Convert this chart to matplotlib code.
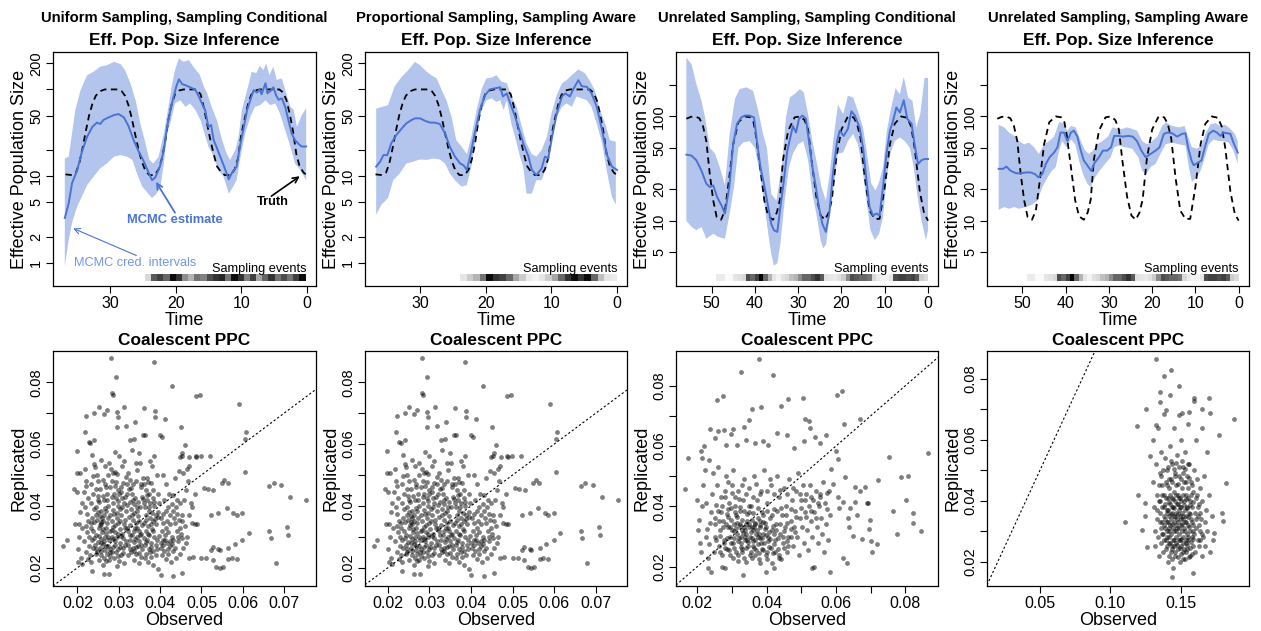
import numpy as np
import matplotlib
matplotlib.use("Agg")
from matplotlib import pyplot as plt
from matplotlib.patches import Rectangle
from matplotlib.ticker import NullLocator

plt.rcParams['font.family'] = ['Liberation Sans', 'DejaVu Sans']

#---------------------------Data: effective population size---------------------------#

# truth, periodic population size (panels 1-2 and panels 3-4)
truth_a_t = [36.8, 35.8, 35.2, 34.7, 34.2, 33.7, 33.2, 32.7, 32.2, 31.6, 30.8, 28.8, 28.2, 27.7, 27.2, 26.7,
             26.2, 25.7, 25.2, 24.6, 24.0, 23.2, 22.6, 22.1, 21.6, 21.1, 20.6, 20.1, 19.5, 18.8, 16.8, 16.2,
             15.7, 15.2, 14.7, 14.2, 13.7, 13.1, 12.5, 11.6, 11.0, 10.5, 10.0, 9.5, 9.0, 8.5, 7.9, 7.2, 4.2,
             3.6, 3.1, 2.6, 2.1, 1.6, 1.1, 0.5, 0.0]
truth_a_n = [10.5, 10.3, 11, 14, 21, 33, 50, 68, 84, 95, 100, 100, 95, 84, 66, 47,
             31, 21, 15, 11.5, 10.3, 10.3, 12, 16, 25, 45, 68, 88, 97, 100, 100, 88,
             62, 40, 26, 18, 13, 11.2, 10.3, 10.3, 12, 16, 30, 45, 66, 86, 97, 100, 100,
             92, 75, 52, 33, 18, 13, 11, 10.3]

truth_b_t = [55.8, 54.8, 53.8, 52.8, 52.0, 51.2, 50.4, 49.6, 48.8, 47.8, 46.9, 46.0, 45.0, 43.8, 42.3, 41.0,
             40.3, 39.8, 38.8, 37.8, 36.9, 35.8, 34.9, 34.2, 33.5, 32.3, 30.8, 29.5, 28.5, 27.7, 26.9, 25.8,
             24.8, 23.8, 22.9, 22.2, 21.2, 20.0, 18.5, 17.2, 16.4, 15.6, 14.6, 13.5, 12.3, 11.2, 10.0, 8.8,
             7.7, 6.2, 4.8, 3.9, 3.1, 1.9, 0.9, 0.0]
truth_b_n = [95, 99, 100, 96, 82, 58, 28, 15.6, 10.8, 10.2, 12.5, 24, 54, 88, 100, 98,
             88, 68, 33, 15.6, 11, 10.2, 12, 16, 38, 73, 98, 100, 92, 75, 38, 17,
             11.2, 10.2, 12, 16, 40, 75, 100, 98, 85, 62, 26, 12.5, 10.4, 10.4, 21, 54,
             85, 100, 97, 80, 50, 19, 11.7, 10]

# Uniform sampling, sampling conditional
mean1_t = [36.9, 36.3, 35.8, 35.0, 34.3, 33.5, 32.7, 32.0, 31.5, 31.0, 30.2, 29.4, 28.7, 27.9, 27.2, 26.4,
           25.6, 25.0, 24.4, 23.6, 23.1, 22.4, 21.8, 21.3, 20.8, 20.3, 19.9, 19.5, 19.0, 18.5, 17.8, 17.0,
           16.5, 16.0, 15.5, 15.0, 14.6, 14.2, 13.8, 13.2, 12.6, 11.9, 11.4, 10.7, 10.2, 9.6, 9.1, 8.6,
           8.1, 7.6, 7.2, 6.9, 6.3, 6.0, 5.5, 5.1, 4.7, 4.3, 3.8, 3.3, 2.8, 2.3, 1.8, 1.1, 0.8, 0.1]
mean1_n = [3.3, 4.9, 8.3, 11.8, 19, 28.5, 37, 41.5, 40, 44.5, 47.7, 50.7, 52, 47.7, 38, 26,
           19, 15.6, 12.3, 9, 9.7, 12.9, 20, 37, 58, 83, 108, 131, 115, 112, 106, 99,
           84, 69, 58, 37, 39, 26, 22, 16.8, 12.9, 9.2, 11, 12.9, 22, 37, 58, 76,
           98, 92, 100, 88, 118, 90, 97, 106, 86, 76, 79, 63, 44, 31, 26, 23, 22, 22]
upper1_t = [36.9, 36.3, 35.8, 35.3, 34.5, 33.5, 32.5, 31.5, 30.5, 29.4, 28.4, 27.7, 26.9, 26.1, 25.4, 24.6,
            24.0, 23.4, 22.6, 21.8, 21.1, 20.6, 20.1, 19.5, 18.8, 18.0, 17.3, 16.3, 15.7, 15.2, 14.5, 13.7,
            12.9, 12.2, 11.7, 10.9, 10.4, 9.9, 9.1, 8.4, 7.7, 7.2, 6.6, 6.2, 5.7, 5.1, 4.6, 3.8, 3.0, 2.5,
            2.0, 1.5, 0.8, 0.1]
upper1_n = [16, 16.8, 31, 58, 98, 146, 160, 183, 190, 208, 196, 167, 118, 75, 41, 24,
            15.4, 14, 16.8, 31, 63, 108, 167, 228, 208, 218, 183, 146, 108, 90, 63, 44,
            26, 18, 15.4, 20, 28.5, 58, 98, 160, 154, 187, 167, 200, 146, 183, 129, 134, 83, 63,
            58, 37, 50, 61]
lower1_t = [36.9, 36.3, 35.8, 35.0, 34.3, 33.5, 32.5, 31.5, 30.5, 29.4, 28.4, 27.4, 26.6, 25.9, 25.1, 24.4,
            23.6, 22.9, 22.3, 21.8, 21.3, 20.7, 20.1, 19.3, 18.5, 17.8, 17.0, 16.2, 15.6, 15.0, 14.2, 13.5,
            12.7, 11.9, 11.4, 10.7, 10.2, 9.4, 8.6, 7.9, 7.1, 6.3, 5.6, 4.8, 4.1, 3.3, 2.5, 1.8, 1.0, 0.1]
lower1_n = [0.91, 1.84, 2.9, 4.5, 5.8, 7.9, 9.9, 12.3, 14, 16.8, 17.5, 16.8, 15.4, 10.8, 7.6, 6.6,
            5.6, 6.3, 7.6, 14, 31, 44, 69, 75, 63, 69, 58, 44, 31, 22, 16.8, 11.8,
            9.9, 6.3, 7.2, 9, 15.4, 31, 48.5, 63, 66, 75, 66, 69, 53, 34, 22, 14, 11.8, 9]

# Proportional sampling, sampling aware
mean2_t = [36.7, 36.1, 35.6, 35.0, 34.4, 33.6, 32.8, 32.1, 31.3, 30.8, 30.0, 29.3, 28.5, 27.8, 27.0, 26.2,
           25.5, 24.7, 23.9, 23.4, 22.9, 22.4, 21.7, 20.9, 20.1, 19.4, 18.6, 17.8, 17.4, 16.8, 16.1, 15.6,
           14.9, 14.3, 13.5, 13.0, 12.3, 11.5, 11.0, 10.5, 9.9, 9.2, 8.4, 7.9, 7.2, 6.7, 5.9, 5.4, 4.6,
           3.9, 3.1, 2.3, 1.6, 0.8, 0.0]
mean2_n = [12.9, 14.7, 17.5, 17.5, 24, 30, 35.5, 40.7, 44.5, 46.4, 46.4, 43.6, 41.5, 41.5, 40, 31,
           22, 16.8, 14, 13.4, 11.8, 16.8, 31, 58, 86, 100, 103, 106, 83, 90, 63, 50,
           34, 24, 16.8, 11.8, 10.3, 12.3, 16.8, 16, 28.5, 53, 83, 90, 83, 100, 128, 109, 107,
           90, 63, 34, 18, 12.9, 11.8]
upper2_t = [36.7, 34.9, 33.9, 32.8, 31.8, 30.8, 30.0, 29.0, 28.3, 27.5, 26.7, 26.0, 25.2, 24.5, 23.7, 22.9,
            22.2, 21.4, 20.6, 19.9, 19.1, 18.4, 17.6, 16.8, 16.1, 15.3, 14.5, 13.8, 13.0, 12.3, 11.5, 10.7,
            10.0, 9.2, 8.4, 7.7, 6.9, 5.9, 4.9, 4.1, 3.4, 2.6, 1.8, 1.1, 0.2]
upper2_n = [60, 66, 108, 140, 167, 208, 190, 160, 146, 134, 98, 75, 48, 26, 22, 18,
            28.5, 58, 103, 134, 137, 146, 123, 118, 83, 63, 37, 24, 18, 16.8, 20, 28.5,
            53, 86, 118, 128, 146, 170, 154, 123, 98, 58, 40, 26, 25]
lower2_t = [36.7, 35.9, 34.9, 34.1, 33.1, 32.1, 31.1, 30.0, 29.0, 28.0, 27.0, 26.2, 25.5, 24.7, 23.7, 22.9,
            22.2, 21.4, 20.6, 19.9, 19.1, 18.4, 17.8, 17.3, 16.8, 16.1, 15.3, 14.8, 14.3, 13.8, 13.0, 12.3,
            11.5, 10.7, 10.0, 9.2, 8.4, 7.7, 6.9, 6.2, 5.4, 4.6, 3.9, 3.1, 2.3, 1.6, 0.8, 0.2]
lower2_n = [3.6, 4.7, 5.6, 9, 10.8, 14, 14.7, 15.6, 15.4, 16, 15.6, 14, 10.8, 9, 7.6, 7.9,
            12.9, 31, 58, 75, 79, 72, 75, 58, 75, 40, 24, 16.8, 12.9, 6.3, 6.3, 9,
            9, 12.9, 26, 48, 63, 69, 63, 83, 79, 75, 63, 40, 24, 11.8, 5.8, 4.7]

# Unrelated sampling, sampling conditional
mean3_t = [55.8, 54.6, 53.5, 52.3, 51.2, 50.4, 49.6, 48.7, 47.7, 46.9, 45.9, 45.0, 44.1, 43.1, 42.3, 41.2,
           40.2, 39.5, 38.7, 37.9, 36.9, 36.2, 35.6, 34.8, 34.1, 33.3, 32.5, 31.8, 31.2, 30.5, 29.8, 29.0,
           28.2, 27.5, 26.7, 25.9, 25.2, 24.4, 23.6, 22.8, 21.9, 21.0, 20.4, 19.5, 18.5, 17.7, 16.9, 15.8,
           15.0, 14.2, 13.5, 12.7, 11.9, 11.2, 10.4, 9.6, 8.8, 8.1, 7.3, 6.5, 5.6, 4.8, 3.8, 3.1, 2.3,
           1.5, 0.8, 0.0]
mean3_n = [43, 42, 38, 30, 22.6, 21, 21.8, 16.8, 14, 11.7, 21, 54, 85, 98, 102, 102,
           98, 58, 32.6, 22.6, 13.5, 9.3, 8.1, 7.8, 13.5, 24, 47, 63, 81, 70, 95, 102,
           95, 58, 32.6, 21, 13.5, 9.3, 7.8, 11.7, 30, 58, 73, 65, 76, 112, 102, 78,
           50, 24, 13.5, 11.2, 11.7, 11.2, 21, 43.6, 73, 90, 122, 109, 143, 95, 85, 54, 35,
           38, 39, 39]
upper3_t = [55.8, 54.6, 53.5, 52.3, 51.5, 50.4, 49.2, 48.1, 46.9, 45.8, 44.6, 43.5, 41.9, 40.4, 39.2, 38.1,
            37.2, 36.2, 35.0, 33.8, 32.8, 31.9, 30.8, 29.6, 28.7, 27.7, 26.7, 25.8, 24.6, 23.6, 22.7, 21.8,
            20.8, 19.6, 18.5, 17.3, 16.2, 15.0, 14.1, 13.1, 12.1, 11.3, 10.4, 9.5, 8.5, 7.5, 6.5, 5.6,
            4.6, 3.6, 2.7, 1.8, 0.8, 0.0]
upper3_n = [366, 316, 204, 141, 98, 50, 44, 32.6, 21.8, 68, 147, 183, 190, 176, 113, 68,
            50, 18, 15.6, 32.6, 98, 152, 164, 183, 170, 105, 58, 38, 21, 15.6, 28, 63,
            130, 105, 158, 152, 113, 78, 44, 22.6, 19.5, 23.5, 32.6, 73, 122, 186, 164, 240,
            152, 141, 78, 105, 234, 234]
lower3_t = [55.8, 54.6, 53.5, 52.3, 51.2, 49.6, 48.5, 46.9, 45.8, 44.8, 43.8, 42.7, 41.2, 40.0, 38.8, 37.7,
            36.9, 36.2, 35.6, 34.8, 34.1, 33.1, 32.1, 31.2, 30.0, 28.8, 27.7, 26.7, 25.8, 24.8, 24.2, 23.5,
            22.7, 21.8, 20.8, 19.6, 18.5, 17.3, 16.2, 15.2, 14.2, 13.3, 12.3, 11.3, 10.4, 9.6, 8.7, 7.7,
            6.5, 5.4, 4.2, 3.3, 2.5, 1.5, 0.5, 0.0]
lower3_n = [10, 8.7, 8.1, 8.7, 6.7, 7.5, 7, 6.7, 11.7, 21, 50, 56, 58, 50, 28, 13.5,
            7.5, 4.8, 3.7, 3.9, 6, 15.6, 32.6, 44, 54, 58, 38, 18, 11.7, 6.5, 5.4, 6,
            11.7, 21, 44, 45, 58, 68, 54, 32.6, 15.6, 8.1, 6.5, 7.5, 10.8, 24, 44, 58,
            63, 58, 50, 32.6, 18, 10, 6.5, 8.1]

# Unrelated sampling, sampling aware
mean4_t = [55.5, 54.5, 53.7, 52.7, 51.5, 50.4, 49.2, 48.1, 47.1, 46.3, 45.4, 44.6, 43.7, 42.7, 41.9, 41.2,
           40.4, 39.6, 38.8, 38.1, 37.3, 36.5, 35.8, 35.0, 34.1, 33.3, 32.3, 31.4, 30.4, 29.5, 28.8, 27.7,
           26.8, 25.5, 24.5, 23.5, 22.5, 21.5, 20.4, 19.2, 18.3, 17.3, 16.5, 15.4, 14.2, 13.1, 12.3, 11.7,
           10.9, 10.4, 9.4, 8.6, 7.8, 6.9, 5.9, 5.0, 4.2, 3.5, 2.7, 1.9, 1.2, 0.2]
mean4_n = [31.4, 31.4, 33, 30, 28.5, 28.5, 29, 29, 28, 26, 28, 35, 40.6, 45, 50.6, 70,
           70, 58, 70, 73, 64, 47, 37.7, 34, 30, 36, 40.6, 47, 47, 50.6, 65, 65,
           64, 65, 64, 58, 47, 40.6, 43.6, 47, 50.6, 68, 70, 69, 64, 68, 69, 50.6,
           37.7, 34, 36, 37.7, 50.6, 68, 73, 70, 65, 70, 69, 68, 56, 45]
upper4_t = [55.5, 54.2, 53.1, 51.9, 50.8, 49.6, 48.5, 47.3, 46.2, 45.0, 43.8, 42.7, 41.5, 40.6, 39.6, 38.8,
            37.7, 36.5, 35.5, 34.6, 33.7, 32.7, 31.5, 30.2, 29.2, 28.1, 26.9, 25.8, 24.6, 23.5, 22.3, 21.2,
            20.0, 18.8, 17.7, 16.8, 15.4, 13.8, 12.5, 11.7, 10.8, 9.6, 8.6, 7.7, 6.5, 5.4, 4.2, 3.1, 1.9,
            0.9, 0.2]
upper4_n = [83, 78.5, 70, 65, 58, 54, 56, 50.6, 43.6, 54, 58, 64, 88, 86, 73, 81,
            78.5, 58, 47, 43.6, 47, 54, 58, 64, 78.5, 76, 76, 78.5, 76, 73, 58, 54,
            58, 64, 81, 88, 81, 78.5, 81, 64, 50.6, 49, 52.5, 68, 84, 86, 81, 83, 76,
            68, 58]
lower4_t = [55.5, 54.2, 53.1, 51.9, 50.8, 49.2, 47.7, 46.5, 45.4, 44.2, 43.2, 42.3, 41.5, 40.8, 39.8, 38.8,
            37.8, 36.9, 36.0, 35.0, 34.2, 33.2, 32.2, 30.9, 29.6, 28.8, 27.7, 26.2, 24.6, 23.2, 22.3, 21.3,
            20.4, 19.2, 18.1, 16.9, 15.4, 13.8, 12.3, 11.5, 10.8, 9.8, 8.8, 7.8, 6.9, 5.8, 4.6, 3.5, 2.3,
            1.2, 0.2]
lower4_n = [12.7, 13.5, 13, 13.5, 13, 13.5, 14.3, 15.6, 21, 26, 30, 32.6, 47, 58, 50.6, 60,
            54, 37.7, 28, 22.6, 21, 26, 30, 35, 40.6, 50.6, 52.5, 50.6, 49, 40.6, 30, 28,
            32.6, 35, 43.6, 54, 56, 54, 52.5, 32.6, 23.5, 26, 30, 40.6, 54, 60, 58, 58, 56,
            47, 35]

# sampling event intensity strips (oldest cell first), and the time span they cover
samp1 = [0.15, 0.65, 0.75, 0.6, 0.95, 0.8, 0.45, 0.3, 0.55, 0.5, 0.7, 0.8, 0.85, 0.55, 0.95, 0.8,
         0.5, 0.75, 0.35, 0.6, 0.8, 0.55, 0.7, 0.55, 0.75, 0.95]
samp1_span = (24.7, 0.2)
samp2 = [0.1, 0.2, 0.3, 0.55, 0.95, 0.8, 0.75, 0.6, 0.35, 0.2, 0.08, 0.05, 0.1, 0.2, 0.35, 0.6,
         0.8, 0.95, 0.8, 0.95, 0.6, 0.25, 0.1, 0.08]
samp2_span = (23.9, 0.0)
samp_unrel = [0.08, 0.08, 0.02, 0.02, 0.1, 0.12, 0.15, 0.7, 0.6, 0.75, 1.0, 0.6, 0.3, 0.1, 0.05, 0.12,
              0.15, 0.25, 0.3, 0.45, 0.6, 0.6, 0.7, 0.8, 0.65, 0.12, 0.1, 0.08, 0.12, 0.2, 0.45, 0.7,
              0.65, 0.6, 0.6, 0.55, 0.15, 0.08, 0.05, 0.05, 0.1, 0.7, 0.75, 0.75, 0.7, 0.75, 0.65, 0.2, 0.15]
samp_unrel_span = (49.0, 0.0)

#---------------------------Data: coalescent PPC (observed, replicated)---------------------------#

ppc_uniform = [
    (0.0281, 0.0878), (0.0385, 0.0864), (0.0293, 0.0818), (0.0429, 0.0788), (0.0283, 0.0764), (0.0285, 0.0759),
    (0.0487, 0.0757), (0.0496, 0.0760), (0.0590, 0.0731), (0.0252, 0.0719), (0.0313, 0.0719), (0.0361, 0.0716),
    (0.0240, 0.0699), (0.0271, 0.0710), (0.0295, 0.0704), (0.0264, 0.0697), (0.0221, 0.0691), (0.0388, 0.0708),
    (0.0388, 0.0688), (0.0413, 0.0682), (0.0297, 0.0686), (0.0339, 0.0673), (0.0318, 0.0659), (0.0295, 0.0654),
    (0.0450, 0.0654), (0.0607, 0.0638), (0.0605, 0.0617), (0.0219, 0.0638), (0.0400, 0.0629), (0.0405, 0.0624),
    (0.0227, 0.0608), (0.0231, 0.0603), (0.0241, 0.0614), (0.0358, 0.0630), (0.0364, 0.0630), (0.0327, 0.0613),
    (0.0338, 0.0615), (0.0198, 0.0576), (0.0460, 0.0597), (0.0454, 0.0572), (0.0452, 0.0561), (0.0448, 0.0559),
    (0.0499, 0.0561), (0.0521, 0.0561), (0.0487, 0.0561), (0.0471, 0.0559), (0.0488, 0.0559), (0.0605, 0.0510),
    (0.0549, 0.0473), (0.0563, 0.0473), (0.0555, 0.0484), (0.0664, 0.0465), (0.0675, 0.0475), (0.0693, 0.0468),
    (0.0714, 0.0430), (0.0754, 0.0419), (0.0505, 0.0457), (0.0516, 0.0454), (0.0529, 0.0450), (0.0599, 0.0378),
    (0.0577, 0.0376), (0.0561, 0.0392), (0.0541, 0.0376), (0.0523, 0.0371), (0.0585, 0.0370), (0.0664, 0.0320),
    (0.0667, 0.0295), (0.0707, 0.0333), (0.0710, 0.0306), (0.0615, 0.0313), (0.0599, 0.0289), (0.0581, 0.0278),
    (0.0565, 0.0264), (0.0545, 0.0257), (0.0523, 0.0258), (0.0527, 0.0266), (0.0541, 0.0261), (0.0500, 0.0233),
    (0.0512, 0.0230), (0.0528, 0.0224), (0.0573, 0.0233), (0.0585, 0.0229), (0.0565, 0.0228), (0.0680, 0.0214),
    (0.0536, 0.0203), (0.0545, 0.0198), (0.0551, 0.0203), (0.0432, 0.0174), (0.0454, 0.0182), (0.0401, 0.0178),
    (0.0264, 0.0180), (0.0277, 0.0179), (0.0166, 0.0271), (0.0174, 0.0290),
    (0.0192, 0.0456), (0.0198, 0.0508), (0.0200, 0.0445), (0.0203, 0.0342), (0.0195, 0.0343), (0.0205, 0.0300),
    (0.0201, 0.0262), (0.0208, 0.0232), (0.0210, 0.0212), (0.0202, 0.0218), (0.0207, 0.0380), (0.0212, 0.0330),
    (0.0210, 0.0410), (0.0206, 0.0505), (0.0215, 0.0446), (0.0218, 0.0520), (0.0220, 0.0482), (0.0222, 0.0463),
    (0.0225, 0.0425), (0.0219, 0.0398), (0.0223, 0.0375), (0.0226, 0.0350), (0.0221, 0.0336), (0.0224, 0.0316),
    (0.0228, 0.0300), (0.0217, 0.0287), (0.0229, 0.0270), (0.0222, 0.0252), (0.0231, 0.0242), (0.0226, 0.0229),
    (0.0235, 0.0190), (0.0233, 0.0220), (0.0237, 0.0265), (0.0235, 0.0290), (0.0238, 0.0320), (0.0232, 0.0345),
    (0.0236, 0.0362), (0.0239, 0.0390), (0.0234, 0.0410), (0.0238, 0.0440), (0.0233, 0.0470), (0.0237, 0.0497),
    (0.0240, 0.0535), (0.0236, 0.0565), (0.0243, 0.0525), (0.0247, 0.0500), (0.0251, 0.0480), (0.0245, 0.0455),
    (0.0249, 0.0432), (0.0253, 0.0412), (0.0246, 0.0398), (0.0250, 0.0380), (0.0255, 0.0368), (0.0248, 0.0355),
    (0.0256, 0.0348), (0.0259, 0.0362), (0.0262, 0.0352), (0.0264, 0.0370), (0.0258, 0.0340), (0.0252, 0.0328),
    (0.0260, 0.0315), (0.0244, 0.0305), (0.0266, 0.0300), (0.0257, 0.0292), (0.0249, 0.0282), (0.0263, 0.0276),
    (0.0255, 0.0265), (0.0267, 0.0258), (0.0247, 0.0250), (0.0258, 0.0240), (0.0265, 0.0232), (0.0252, 0.0225),
    (0.0270, 0.0222), (0.0262, 0.0210), (0.0245, 0.0260), (0.0268, 0.0330), (0.0271, 0.0345), (0.0273, 0.0360),
    (0.0269, 0.0385), (0.0275, 0.0400), (0.0265, 0.0420), (0.0272, 0.0438), (0.0268, 0.0460), (0.0262, 0.0485),
    (0.0274, 0.0500), (0.0266, 0.0530), (0.0258, 0.0550), (0.0276, 0.0540), (0.0279, 0.0318), (0.0277, 0.0290),
    (0.0274, 0.0270), (0.0278, 0.0250), (0.0280, 0.0238), (0.0276, 0.0225), (0.0282, 0.0520), (0.0286, 0.0505),
    (0.0292, 0.0510), (0.0296, 0.0502), (0.0284, 0.0480), (0.0290, 0.0465), (0.0298, 0.0450), (0.0288, 0.0440),
    (0.0294, 0.0425), (0.0300, 0.0438), (0.0305, 0.0445), (0.0285, 0.0410), (0.0297, 0.0400), (0.0303, 0.0390),
    (0.0289, 0.0375), (0.0295, 0.0362), (0.0306, 0.0370), (0.0283, 0.0352), (0.0299, 0.0345), (0.0287, 0.0332),
    (0.0302, 0.0325), (0.0292, 0.0315), (0.0308, 0.0310), (0.0284, 0.0300), (0.0296, 0.0298), (0.0310, 0.0295),
    (0.0290, 0.0285), (0.0303, 0.0280), (0.0286, 0.0268), (0.0298, 0.0262), (0.0311, 0.0265), (0.0293, 0.0250),
    (0.0305, 0.0240), (0.0288, 0.0232), (0.0300, 0.0222), (0.0312, 0.0215), (0.0296, 0.0205), (0.0315, 0.0330),
    (0.0314, 0.0355), (0.0318, 0.0382), (0.0312, 0.0410), (0.0316, 0.0430), (0.0310, 0.0475), (0.0318, 0.0495),
    (0.0307, 0.0530), (0.0300, 0.0560), (0.0290, 0.0575), (0.0312, 0.0545), (0.0322, 0.0505), (0.0328, 0.0485),
    (0.0335, 0.0470), (0.0325, 0.0455), (0.0332, 0.0440), (0.0340, 0.0425), (0.0326, 0.0412), (0.0336, 0.0405),
    (0.0344, 0.0395), (0.0330, 0.0390), (0.0338, 0.0378), (0.0346, 0.0368), (0.0324, 0.0365), (0.0334, 0.0355),
    (0.0342, 0.0345), (0.0350, 0.0352), (0.0328, 0.0338), (0.0339, 0.0328), (0.0348, 0.0320), (0.0322, 0.0318),
    (0.0333, 0.0305), (0.0344, 0.0300), (0.0354, 0.0310), (0.0327, 0.0290), (0.0338, 0.0282), (0.0350, 0.0285),
    (0.0323, 0.0272), (0.0335, 0.0265), (0.0346, 0.0270), (0.0356, 0.0260), (0.0330, 0.0250), (0.0342, 0.0245),
    (0.0353, 0.0235), (0.0337, 0.0225), (0.0348, 0.0215), (0.0341, 0.0538), (0.0352, 0.0540), (0.0345, 0.0515),
    (0.0358, 0.0490), (0.0355, 0.0460), (0.0357, 0.0430), (0.0349, 0.0570), (0.0331, 0.0580), (0.0362, 0.0470),
    (0.0370, 0.0478), (0.0378, 0.0475), (0.0366, 0.0452), (0.0374, 0.0440), (0.0382, 0.0450), (0.0368, 0.0420),
    (0.0376, 0.0410), (0.0385, 0.0400), (0.0364, 0.0398), (0.0372, 0.0385), (0.0380, 0.0378), (0.0389, 0.0370),
    (0.0366, 0.0370), (0.0375, 0.0360), (0.0384, 0.0352), (0.0362, 0.0345), (0.0371, 0.0335), (0.0380, 0.0325),
    (0.0390, 0.0340), (0.0365, 0.0318), (0.0374, 0.0305), (0.0386, 0.0300), (0.0368, 0.0290), (0.0378, 0.0280),
    (0.0392, 0.0290), (0.0363, 0.0272), (0.0372, 0.0262), (0.0384, 0.0255), (0.0366, 0.0245), (0.0378, 0.0235),
    (0.0389, 0.0240), (0.0370, 0.0220), (0.0382, 0.0208), (0.0395, 0.0195), (0.0375, 0.0545), (0.0385, 0.0560),
    (0.0380, 0.0530), (0.0392, 0.0500), (0.0396, 0.0440), (0.0398, 0.0410), (0.0394, 0.0380), (0.0402, 0.0360),
    (0.0408, 0.0345), (0.0414, 0.0330), (0.0404, 0.0320), (0.0412, 0.0305), (0.0420, 0.0315), (0.0406, 0.0290),
    (0.0416, 0.0280), (0.0424, 0.0270), (0.0402, 0.0265), (0.0410, 0.0255), (0.0420, 0.0245), (0.0430, 0.0255),
    (0.0405, 0.0240), (0.0415, 0.0228), (0.0426, 0.0220), (0.0438, 0.0230), (0.0432, 0.0290), (0.0428, 0.0300),
    (0.0436, 0.0345), (0.0440, 0.0320), (0.0444, 0.0300), (0.0450, 0.0310), (0.0447, 0.0330), (0.0454, 0.0350),
    (0.0460, 0.0335), (0.0442, 0.0375), (0.0452, 0.0370), (0.0432, 0.0385), (0.0425, 0.0370), (0.0418, 0.0395),
    (0.0410, 0.0420), (0.0422, 0.0440), (0.0430, 0.0435), (0.0440, 0.0420), (0.0448, 0.0410), (0.0458, 0.0420),
    (0.0462, 0.0450), (0.0468, 0.0480), (0.0455, 0.0505), (0.0445, 0.0512), (0.0436, 0.0490), (0.0414, 0.0470),
    (0.0406, 0.0500), (0.0465, 0.0520), (0.0470, 0.0530), (0.0474, 0.0410), (0.0478, 0.0395), (0.0470, 0.0370),
    (0.0476, 0.0345), (0.0466, 0.0300), (0.0462, 0.0280), (0.0455, 0.0265), (0.0448, 0.0245), (0.0470, 0.0230),
    (0.0480, 0.0235), (0.0485, 0.0340), (0.0490, 0.0340), (0.0485, 0.0440)]

ppc_uniform_core = [
    (0.0232, 0.0330), (0.0241, 0.0348), (0.0254, 0.0338), (0.0261, 0.0326), (0.0270, 0.0312), (0.0283, 0.0322),
    (0.0291, 0.0338), (0.0304, 0.0352), (0.0313, 0.0342), (0.0321, 0.0330), (0.0336, 0.0318), (0.0345, 0.0330),
    (0.0357, 0.0338), (0.0366, 0.0355), (0.0377, 0.0342), (0.0388, 0.0358), (0.0395, 0.0365), (0.0246, 0.0372),
    (0.0258, 0.0385), (0.0267, 0.0392), (0.0279, 0.0372), (0.0286, 0.0388), (0.0296, 0.0378), (0.0309, 0.0395),
    (0.0320, 0.0402), (0.0331, 0.0372), (0.0343, 0.0385), (0.0352, 0.0398), (0.0361, 0.0408), (0.0373, 0.0395),
    (0.0385, 0.0412), (0.0240, 0.0295), (0.0253, 0.0302), (0.0265, 0.0285), (0.0275, 0.0300), (0.0287, 0.0292),
    (0.0297, 0.0310), (0.0306, 0.0302), (0.0318, 0.0288), (0.0326, 0.0305), (0.0340, 0.0292), (0.0351, 0.0305),
    (0.0360, 0.0295), (0.0371, 0.0310), (0.0383, 0.0318), (0.0398, 0.0302), (0.0243, 0.0275), (0.0256, 0.0280),
    (0.0268, 0.0270), (0.0280, 0.0262), (0.0292, 0.0272), (0.0302, 0.0266), (0.0316, 0.0275), (0.0328, 0.0262),
    (0.0341, 0.0268), (0.0355, 0.0275), (0.0367, 0.0282), (0.0379, 0.0268), (0.0390, 0.0275), (0.0401, 0.0280),
    (0.0412, 0.0290), (0.0423, 0.0285), (0.0250, 0.0420), (0.0261, 0.0432), (0.0272, 0.0418), (0.0284, 0.0428),
    (0.0297, 0.0415), (0.0308, 0.0425), (0.0321, 0.0438), (0.0334, 0.0420), (0.0346, 0.0412), (0.0358, 0.0422),
    (0.0369, 0.0435), (0.0382, 0.0425), (0.0255, 0.0455), (0.0267, 0.0470), (0.0280, 0.0462), (0.0293, 0.0478),
    (0.0306, 0.0462), (0.0319, 0.0470), (0.0330, 0.0458), (0.0342, 0.0480), (0.0355, 0.0472), (0.0368, 0.0490),
    (0.0244, 0.0245), (0.0257, 0.0255), (0.0271, 0.0245), (0.0284, 0.0250), (0.0297, 0.0238), (0.0310, 0.0248),
    (0.0323, 0.0240), (0.0336, 0.0255), (0.0350, 0.0248), (0.0363, 0.0232), (0.0376, 0.0250), (0.0392, 0.0260),
    (0.0408, 0.0272), (0.0418, 0.0260), (0.0428, 0.0278), (0.0436, 0.0265), (0.0444, 0.0285), (0.0452, 0.0295),
    (0.0416, 0.0350), (0.0424, 0.0340), (0.0434, 0.0360), (0.0446, 0.0355), (0.0406, 0.0375), (0.0415, 0.0382),
    (0.0428, 0.0405), (0.0438, 0.0395)]

ppc_unrel_cond = [
    (0.0378, 0.0890), (0.0326, 0.0844), (0.0419, 0.0834), (0.0617, 0.0783), (0.0604, 0.0768), (0.0504, 0.0759),
    (0.0273, 0.0767), (0.0256, 0.0751), (0.0462, 0.0755), (0.0443, 0.0734), (0.0383, 0.0728), (0.0357, 0.0724),
    (0.0668, 0.0690), (0.0511, 0.0688), (0.0523, 0.0684), (0.0350, 0.0685), (0.0623, 0.0673), (0.0525, 0.0660),
    (0.0237, 0.0657), (0.0336, 0.0662), (0.0304, 0.0656), (0.0278, 0.0654), (0.0260, 0.0650), (0.0174, 0.0559),
    (0.0164, 0.0456), (0.0753, 0.0565), (0.0866, 0.0578), (0.0787, 0.0496), (0.0807, 0.0501), (0.0801, 0.0422),
    (0.0821, 0.0377), (0.0821, 0.0344), (0.0845, 0.0317), (0.0775, 0.0309), (0.0763, 0.0386), (0.0721, 0.0489),
    (0.0688, 0.0412), (0.0693, 0.0412), (0.0697, 0.0355), (0.0696, 0.0325), (0.0676, 0.0292), (0.0702, 0.0285),
    (0.0719, 0.0274), (0.0703, 0.0250), (0.0634, 0.0363), (0.0638, 0.0333), (0.0648, 0.0302), (0.0621, 0.0228),
    (0.0631, 0.0213), (0.0582, 0.0181), (0.0537, 0.0198), (0.0532, 0.0195), (0.0420, 0.0195), (0.0398, 0.0183),
    (0.0331, 0.0171), (0.0231, 0.0195), (0.0241, 0.0181), (0.0272, 0.0200), (0.0279, 0.0197),
    (0.0251, 0.0625), (0.0212, 0.0584), (0.0283, 0.0602), (0.0298, 0.0640), (0.0315, 0.0605), (0.0342, 0.0620),
    (0.0368, 0.0610), (0.0390, 0.0618), (0.0403, 0.0605), (0.0430, 0.0642), (0.0460, 0.0637), (0.0478, 0.0595),
    (0.0508, 0.0617), (0.0540, 0.0630), (0.0555, 0.0610), (0.0570, 0.0637), (0.0600, 0.0585), (0.0607, 0.0557),
    (0.0585, 0.0525), (0.0625, 0.0497), (0.0655, 0.0465), (0.0670, 0.0450), (0.0685, 0.0465), (0.0655, 0.0415),
    (0.0660, 0.0372), (0.0640, 0.0395), (0.0620, 0.0415), (0.0605, 0.0430), (0.0610, 0.0395), (0.0590, 0.0475),
    (0.0575, 0.0445), (0.0220, 0.0600), (0.0215, 0.0560), (0.0235, 0.0555),
    (0.0200, 0.0420), (0.0205, 0.0355), (0.0202, 0.0320), (0.0208, 0.0280), (0.0210, 0.0250), (0.0215, 0.0400),
    (0.0218, 0.0470), (0.0222, 0.0520), (0.0225, 0.0410), (0.0228, 0.0325), (0.0226, 0.0300), (0.0230, 0.0230),
    (0.0233, 0.0275), (0.0237, 0.0345), (0.0240, 0.0380), (0.0242, 0.0440), (0.0245, 0.0510), (0.0248, 0.0250),
    (0.0250, 0.0300), (0.0252, 0.0360), (0.0255, 0.0405), (0.0258, 0.0470), (0.0260, 0.0530), (0.0262, 0.0270),
    (0.0265, 0.0320), (0.0268, 0.0380), (0.0270, 0.0430), (0.0272, 0.0240), (0.0275, 0.0350), (0.0278, 0.0290),
    (0.0280, 0.0450), (0.0282, 0.0500), (0.0285, 0.0260), (0.0288, 0.0330), (0.0290, 0.0390), (0.0292, 0.0410),
    (0.0294, 0.0240), (0.0296, 0.0300), (0.0298, 0.0355), (0.0300, 0.0470), (0.0302, 0.0520), (0.0304, 0.0280),
    (0.0306, 0.0340), (0.0308, 0.0400), (0.0310, 0.0430), (0.0312, 0.0250), (0.0314, 0.0310), (0.0316, 0.0365),
    (0.0318, 0.0450), (0.0320, 0.0295), (0.0322, 0.0335), (0.0324, 0.0385), (0.0326, 0.0265), (0.0328, 0.0320),
    (0.0330, 0.0355), (0.0332, 0.0420), (0.0334, 0.0490), (0.0336, 0.0230), (0.0338, 0.0290), (0.0340, 0.0340),
    (0.0342, 0.0310), (0.0344, 0.0375), (0.0346, 0.0270), (0.0348, 0.0460), (0.0350, 0.0330), (0.0352, 0.0300),
    (0.0354, 0.0250), (0.0356, 0.0400), (0.0358, 0.0355), (0.0360, 0.0320), (0.0362, 0.0285), (0.0364, 0.0500),
    (0.0366, 0.0240), (0.0368, 0.0340), (0.0370, 0.0310), (0.0372, 0.0420), (0.0374, 0.0275), (0.0376, 0.0360),
    (0.0378, 0.0225), (0.0380, 0.0295), (0.0382, 0.0330), (0.0384, 0.0450), (0.0386, 0.0260), (0.0388, 0.0380),
    (0.0390, 0.0310), (0.0392, 0.0520), (0.0394, 0.0280), (0.0396, 0.0345), (0.0398, 0.0240), (0.0400, 0.0410),
    (0.0403, 0.0300), (0.0406, 0.0265), (0.0409, 0.0360), (0.0412, 0.0470), (0.0415, 0.0320), (0.0418, 0.0245),
    (0.0421, 0.0390), (0.0424, 0.0290), (0.0427, 0.0340), (0.0430, 0.0500), (0.0433, 0.0260), (0.0436, 0.0430),
    (0.0439, 0.0310), (0.0442, 0.0225), (0.0445, 0.0370), (0.0448, 0.0280), (0.0451, 0.0460), (0.0454, 0.0330),
    (0.0457, 0.0400), (0.0460, 0.0250), (0.0463, 0.0300), (0.0466, 0.0490), (0.0469, 0.0350), (0.0472, 0.0420),
    (0.0475, 0.0270), (0.0478, 0.0330), (0.0481, 0.0385), (0.0484, 0.0450), (0.0487, 0.0300), (0.0490, 0.0510),
    (0.0493, 0.0240), (0.0496, 0.0360), (0.0499, 0.0420), (0.0502, 0.0330), (0.0505, 0.0470), (0.0508, 0.0280),
    (0.0511, 0.0380), (0.0514, 0.0440), (0.0517, 0.0320), (0.0520, 0.0255), (0.0523, 0.0400), (0.0526, 0.0470),
    (0.0529, 0.0350), (0.0532, 0.0300), (0.0535, 0.0420), (0.0538, 0.0380), (0.0541, 0.0450), (0.0544, 0.0330),
    (0.0547, 0.0280), (0.0550, 0.0400), (0.0553, 0.0430), (0.0556, 0.0360), (0.0559, 0.0310), (0.0562, 0.0480),
    (0.0565, 0.0250), (0.0568, 0.0410), (0.0571, 0.0340), (0.0574, 0.0390), (0.0577, 0.0290), (0.0580, 0.0450),
    (0.0583, 0.0370), (0.0315, 0.0345), (0.0335, 0.0330), (0.0345, 0.0290), (0.0355, 0.0315), (0.0365, 0.0330),
    (0.0375, 0.0300), (0.0325, 0.0300), (0.0345, 0.0350), (0.0360, 0.0270), (0.0380, 0.0350), (0.0395, 0.0325),
    (0.0300, 0.0320), (0.0290, 0.0365), (0.0310, 0.0380), (0.0330, 0.0260), (0.0370, 0.0255), (0.0405, 0.0285),
    (0.0420, 0.0310), (0.0385, 0.0280), (0.0350, 0.0380)]

ppc_unrel_cond_core = [
    (0.0250, 0.0340), (0.0262, 0.0352), (0.0274, 0.0330), (0.0283, 0.0342), (0.0295, 0.0330), (0.0305, 0.0318),
    (0.0313, 0.0328), (0.0322, 0.0342), (0.0331, 0.0312), (0.0339, 0.0322), (0.0348, 0.0340), (0.0357, 0.0330),
    (0.0366, 0.0345), (0.0373, 0.0320), (0.0381, 0.0338), (0.0390, 0.0348), (0.0399, 0.0330), (0.0408, 0.0315),
    (0.0418, 0.0335), (0.0428, 0.0322), (0.0438, 0.0340), (0.0449, 0.0318), (0.0459, 0.0345), (0.0470, 0.0325),
    (0.0255, 0.0290), (0.0266, 0.0302), (0.0277, 0.0280), (0.0287, 0.0295), (0.0297, 0.0280), (0.0307, 0.0296),
    (0.0317, 0.0285), (0.0327, 0.0278), (0.0337, 0.0300), (0.0347, 0.0283), (0.0357, 0.0295), (0.0367, 0.0288),
    (0.0377, 0.0310), (0.0387, 0.0295), (0.0397, 0.0305), (0.0410, 0.0292), (0.0422, 0.0275), (0.0434, 0.0295),
    (0.0446, 0.0300), (0.0458, 0.0285), (0.0471, 0.0298), (0.0483, 0.0315), (0.0265, 0.0250), (0.0280, 0.0262),
    (0.0293, 0.0255), (0.0305, 0.0262), (0.0318, 0.0240), (0.0330, 0.0250), (0.0342, 0.0262), (0.0353, 0.0240),
    (0.0365, 0.0262), (0.0377, 0.0245), (0.0389, 0.0255), (0.0401, 0.0250), (0.0413, 0.0262), (0.0425, 0.0250),
    (0.0437, 0.0240), (0.0450, 0.0262), (0.0463, 0.0270), (0.0302, 0.0228), (0.0318, 0.0218), (0.0340, 0.0215),
    (0.0358, 0.0228), (0.0380, 0.0212), (0.0400, 0.0225), (0.0415, 0.0212), (0.0435, 0.0230), (0.0260, 0.0385),
    (0.0272, 0.0400), (0.0285, 0.0375), (0.0298, 0.0395), (0.0311, 0.0372), (0.0323, 0.0398), (0.0336, 0.0385),
    (0.0349, 0.0400), (0.0362, 0.0378), (0.0375, 0.0395), (0.0389, 0.0370), (0.0402, 0.0385), (0.0415, 0.0370),
    (0.0430, 0.0385), (0.0443, 0.0395), (0.0457, 0.0370), (0.0470, 0.0390), (0.0485, 0.0365), (0.0500, 0.0395),
    (0.0515, 0.0365), (0.0528, 0.0385), (0.0542, 0.0360), (0.0548, 0.0410), (0.0555, 0.0440), (0.0527, 0.0430),
    (0.0510, 0.0420), (0.0495, 0.0440), (0.0280, 0.0430), (0.0300, 0.0445), (0.0320, 0.0425), (0.0340, 0.0440),
    (0.0360, 0.0430), (0.0380, 0.0440), (0.0400, 0.0450), (0.0420, 0.0440), (0.0440, 0.0455), (0.0460, 0.0440),
    (0.0475, 0.0460), (0.0290, 0.0480), (0.0330, 0.0470), (0.0370, 0.0475), (0.0410, 0.0490)]

ppc_unrel_aware = [
    (0.1322, 0.0866), (0.1431, 0.0828), (0.1379, 0.0809), (0.1490, 0.0776), (0.1353, 0.0757), (0.1424, 0.0747),
    (0.1595, 0.0738), (0.1597, 0.0728), (0.1699, 0.0738), (0.1254, 0.0701), (0.1353, 0.0723), (0.1393, 0.0696),
    (0.1384, 0.0683), (0.1512, 0.0688), (0.1490, 0.0681), (0.1708, 0.0686), (0.1879, 0.0669), (0.1187, 0.0645),
    (0.1322, 0.0648), (0.1339, 0.0640), (0.1775, 0.0615), (0.1649, 0.0640), (0.1104, 0.0329), (0.1194, 0.0419),
    (0.1247, 0.0393), (0.1590, 0.0162), (0.1436, 0.0151), (0.1820, 0.0458), (0.1796, 0.0361), (0.1803, 0.0334),
    (0.1740, 0.0295), (0.1258, 0.0249), (0.1225, 0.0303), (0.1250, 0.0350), (0.1280, 0.0545), (0.1300, 0.0600),
    (0.1450, 0.0640), (0.1550, 0.0650), (0.1610, 0.0600), (0.1690, 0.0560), (0.1650, 0.0700), (0.1560, 0.0690),
    (0.1300, 0.0460), (0.1310, 0.0380), (0.1315, 0.0300), (0.1320, 0.0250), (0.1325, 0.0520), (0.1330, 0.0420),
    (0.1335, 0.0340), (0.1340, 0.0280), (0.1345, 0.0220), (0.1350, 0.0490), (0.1352, 0.0400), (0.1355, 0.0360),
    (0.1358, 0.0310), (0.1360, 0.0560), (0.1362, 0.0260), (0.1365, 0.0450), (0.1368, 0.0380), (0.1370, 0.0330),
    (0.1372, 0.0230), (0.1375, 0.0500), (0.1378, 0.0290), (0.1380, 0.0420), (0.1382, 0.0350), (0.1385, 0.0270),
    (0.1388, 0.0540), (0.1390, 0.0390), (0.1392, 0.0310), (0.1395, 0.0460), (0.1398, 0.0240), (0.1400, 0.0360),
    (0.1402, 0.0330), (0.1404, 0.0280), (0.1406, 0.0500), (0.1408, 0.0410), (0.1410, 0.0200), (0.1412, 0.0370),
    (0.1414, 0.0300), (0.1416, 0.0440), (0.1418, 0.0260), (0.1420, 0.0350), (0.1422, 0.0580), (0.1424, 0.0320),
    (0.1426, 0.0390), (0.1428, 0.0230), (0.1430, 0.0470), (0.1432, 0.0340), (0.1434, 0.0290), (0.1436, 0.0410),
    (0.1438, 0.0360), (0.1440, 0.0250), (0.1442, 0.0520), (0.1444, 0.0310), (0.1446, 0.0380), (0.1448, 0.0180),
    (0.1450, 0.0430), (0.1452, 0.0270), (0.1454, 0.0350), (0.1456, 0.0330), (0.1458, 0.0490), (0.1460, 0.0220),
    (0.1462, 0.0400), (0.1464, 0.0300), (0.1466, 0.0360), (0.1468, 0.0450), (0.1470, 0.0260), (0.1472, 0.0340),
    (0.1474, 0.0550), (0.1476, 0.0310), (0.1478, 0.0390), (0.1480, 0.0240), (0.1482, 0.0420), (0.1484, 0.0330),
    (0.1486, 0.0290), (0.1488, 0.0370), (0.1490, 0.0480), (0.1492, 0.0200), (0.1494, 0.0350), (0.1496, 0.0410),
    (0.1498, 0.0270), (0.1500, 0.0320), (0.1502, 0.0600), (0.1504, 0.0380), (0.1506, 0.0250), (0.1508, 0.0440),
    (0.1510, 0.0300), (0.1512, 0.0360), (0.1514, 0.0230), (0.1516, 0.0510), (0.1518, 0.0340), (0.1520, 0.0280),
    (0.1522, 0.0400), (0.1524, 0.0460), (0.1526, 0.0310), (0.1528, 0.0370), (0.1530, 0.0210), (0.1532, 0.0330),
    (0.1534, 0.0560), (0.1536, 0.0260), (0.1538, 0.0420), (0.1540, 0.0350), (0.1542, 0.0290), (0.1544, 0.0480),
    (0.1546, 0.0380), (0.1548, 0.0240), (0.1550, 0.0320), (0.1552, 0.0440), (0.1555, 0.0270), (0.1558, 0.0360),
    (0.1561, 0.0520), (0.1564, 0.0300), (0.1567, 0.0400), (0.1570, 0.0220), (0.1573, 0.0340), (0.1576, 0.0460),
    (0.1579, 0.0280), (0.1582, 0.0380), (0.1585, 0.0250), (0.1588, 0.0430), (0.1591, 0.0320), (0.1594, 0.0500),
    (0.1597, 0.0290), (0.1600, 0.0360), (0.1604, 0.0230), (0.1608, 0.0410), (0.1612, 0.0310), (0.1616, 0.0470),
    (0.1620, 0.0270), (0.1624, 0.0350), (0.1628, 0.0390), (0.1632, 0.0250), (0.1636, 0.0440), (0.1640, 0.0300),
    (0.1645, 0.0340), (0.1650, 0.0220), (0.1655, 0.0400), (0.1660, 0.0280), (0.1665, 0.0480), (0.1670, 0.0330),
    (0.1675, 0.0250), (0.1680, 0.0370), (0.1690, 0.0300), (0.1700, 0.0420), (0.1710, 0.0230), (0.1720, 0.0350),
    (0.1730, 0.0270)]

ppc_unrel_aware_core = [
    (0.1380, 0.0320), (0.1390, 0.0340), (0.1400, 0.0300), (0.1410, 0.0330), (0.1420, 0.0310), (0.1430, 0.0355),
    (0.1440, 0.0325), (0.1450, 0.0300), (0.1460, 0.0345), (0.1470, 0.0320), (0.1480, 0.0355), (0.1490, 0.0310),
    (0.1500, 0.0340), (0.1510, 0.0325), (0.1520, 0.0350), (0.1530, 0.0300), (0.1540, 0.0330), (0.1550, 0.0345),
    (0.1560, 0.0315), (0.1570, 0.0355), (0.1580, 0.0330), (0.1590, 0.0300), (0.1385, 0.0380), (0.1395, 0.0410),
    (0.1405, 0.0370), (0.1415, 0.0395), (0.1425, 0.0420), (0.1435, 0.0380), (0.1445, 0.0405), (0.1455, 0.0375),
    (0.1465, 0.0420), (0.1475, 0.0390), (0.1485, 0.0410), (0.1495, 0.0380), (0.1505, 0.0400), (0.1515, 0.0420),
    (0.1525, 0.0385), (0.1535, 0.0405), (0.1545, 0.0375), (0.1555, 0.0410), (0.1565, 0.0385), (0.1575, 0.0420),
    (0.1585, 0.0395), (0.1395, 0.0270), (0.1405, 0.0250), (0.1415, 0.0280), (0.1425, 0.0260), (0.1435, 0.0240),
    (0.1445, 0.0270), (0.1455, 0.0250), (0.1465, 0.0280), (0.1475, 0.0255), (0.1485, 0.0270), (0.1495, 0.0245),
    (0.1505, 0.0275), (0.1515, 0.0260), (0.1525, 0.0240), (0.1535, 0.0270), (0.1545, 0.0255), (0.1555, 0.0280),
    (0.1565, 0.0245), (0.1575, 0.0265), (0.1590, 0.0275), (0.1400, 0.0450), (0.1420, 0.0470), (0.1440, 0.0460),
    (0.1460, 0.0480), (0.1480, 0.0455), (0.1500, 0.0470), (0.1520, 0.0490), (0.1540, 0.0460), (0.1560, 0.0475),
    (0.1580, 0.0450), (0.1410, 0.0510), (0.1430, 0.0530), (0.1450, 0.0505), (0.1470, 0.0525), (0.1490, 0.0510),
    (0.1510, 0.0530), (0.1530, 0.0505), (0.1550, 0.0520), (0.1420, 0.0220), (0.1440, 0.0210), (0.1460, 0.0230),
    (0.1480, 0.0215), (0.1500, 0.0225), (0.1520, 0.0210), (0.1540, 0.0230), (0.1560, 0.0215), (0.1580, 0.0225),
    (0.1610, 0.0340), (0.1620, 0.0380), (0.1630, 0.0320), (0.1640, 0.0360), (0.1650, 0.0290), (0.1615, 0.0420),
    (0.1635, 0.0270), (0.1345, 0.0400), (0.1355, 0.0330), (0.1365, 0.0420), (0.1370, 0.0290), (0.1335, 0.0370),
    (0.1345, 0.0450), (0.1360, 0.0480)]

titles = ["Uniform Sampling, Sampling Conditional", "Proportional Sampling, Sampling Aware",
          "Unrelated Sampling, Sampling Conditional", "Unrelated Sampling, Sampling Aware"]

#---------------------------Style---------------------------#

band_col = '#b3c5ec'
line_col = '#4a73d3'
cred_col = '#7196e2'
W, H = 1261, 631

fig = plt.figure(figsize=(W / 100, H / 100), dpi=100)


def add_axes_px(left, right, top, bottom):
    return fig.add_axes([left / W, 1 - bottom / H, (right - left) / W, (bottom - top) / H])


def style_axes(ax):
    for s in ax.spines.values():
        s.set_linewidth(0.9)
    ax.tick_params(direction='out', length=5, width=0.8, pad=2)
    ax.tick_params(axis='x', labelsize=11.5)
    ax.tick_params(axis='y', labelsize=10.5, labelrotation=90)
    for lab in ax.get_yticklabels():
        lab.set_va('center')


def ne_panel(ax, title, truth_t, truth_n, mean_t, mean_n, up_t, up_n, lo_t, lo_n,
             samp, span, xlim, ylim, xticks, yticks, ylabels):
    ax.fill(np.r_[up_t, lo_t[::-1]], np.r_[up_n, lo_n[::-1]], color=band_col, lw=0)
    ax.plot(truth_t, truth_n, color='black', lw=1.3, dashes=(3.5, 2.5))
    ax.plot(mean_t, mean_n, color=line_col, lw=1.4)
    ax.set_yscale('log')
    ax.set_xlim(xlim)
    ax.set_ylim(ylim)
    ax.set_xticks(xticks)
    ax.set_yticks(yticks)
    ax.set_yticklabels(ylabels)
    ax.yaxis.set_minor_locator(NullLocator())

    # sampling events strip
    edges = np.linspace(span[0], span[1], len(samp) + 1)
    for i, v in enumerate(samp):
        ax.add_patch(Rectangle((edges[i + 1], 0.023), edges[i] - edges[i + 1], 0.027,
                               transform=ax.get_xaxis_transform(),
                               color=plt.cm.gray(1 - v), lw=0))
    ax.text(0, 0.061, "Sampling events", transform=ax.get_xaxis_transform(),
            ha='right', va='baseline', fontsize=9.2)

    ax.set_title("Eff. Pop. Size Inference", fontsize=12.4, fontweight='bold', pad=5)
    ax.text(0.5, 1 + 30.3 / 234, title, transform=ax.transAxes, ha='center', va='baseline',
            fontsize=10.6, fontweight='bold')
    ax.set_xlabel("Time", fontsize=13, va='baseline')
    ax.xaxis.set_label_coords(0.5, -39 / 234)
    ax.set_ylabel("Effective Population Size", fontsize=13, va='center')
    ax.yaxis.set_label_coords(-0.128, 0.5)
    style_axes(ax)


def ppc_panel(ax, pairs, xlim, ylim, xticks, xlabels, yticks, ylabels):
    pts = np.array(pairs)
    ax.scatter(pts[:, 0], pts[:, 1], s=12, color='black', alpha=0.5, lw=0)
    ax.axline((0, 0), slope=1, color='black', lw=0.8, dashes=(2, 2))
    ax.set_xlim(xlim)
    ax.set_ylim(ylim)
    ax.set_xticks(xticks)
    ax.set_xticklabels(xlabels)
    ax.set_yticks(yticks)
    ax.set_yticklabels(ylabels)
    ax.set_title("Coalescent PPC", fontsize=12.4, fontweight='bold', pad=4)
    ax.set_xlabel("Observed", fontsize=13, va='baseline')
    ax.xaxis.set_label_coords(0.5, -39 / 235)
    ax.set_ylabel("Replicated", fontsize=13, va='center')
    ax.yaxis.set_label_coords(-0.128, 0.5)
    style_axes(ax)


#---------------------------Top row---------------------------#

ticks_a = [1, 2, 5, 10, 20, 50, 100, 200]
labels_a = ['1', '2', '5', '10', '', '50', '', '200']
ticks_b = [5, 10, 20, 50, 100, 200]
labels_b = ['5', '10', '20', '50', '100', '']

ax1 = add_axes_px(53, 316, 52, 286)
ne_panel(ax1, titles[0], truth_a_t, truth_a_n, mean1_t, mean1_n, upper1_t, upper1_n, lower1_t, lower1_n,
         samp1, samp1_span, (38.7, -1.4), (0.543, 270), [30, 20, 10, 0], ticks_a, labels_a)

# annotations
ax1.text(20.1, 3.1, "MCMC estimate", color=line_col, fontsize=9.3, fontweight='bold', ha='center', va='center')
ax1.annotate("", xy=(23.0, 8.6), xytext=(20.1, 3.8),
             arrowprops=dict(arrowstyle='->', color=line_col, lw=1.3, shrinkA=0, shrinkB=0))
ax1.text(5.2, 5.0, "Truth", color='black', fontsize=9.3, fontweight='bold', ha='center', va='center')
ax1.annotate("", xy=(1.07, 10), xytext=(5.4, 5.9),
             arrowprops=dict(arrowstyle='->', color='black', lw=1.2, shrinkA=0, shrinkB=0))
ax1.text(26.2, 1.0, "MCMC cred. intervals", color=cred_col, fontsize=9.2, ha='center', va='center')
ax1.annotate("", xy=(35.6, 2.5), xytext=(26.0, 1.22),
             arrowprops=dict(arrowstyle='->', color=line_col, lw=0.8, shrinkA=0, shrinkB=0))

ax2 = add_axes_px(365, 627, 52, 286)
ne_panel(ax2, titles[1], truth_a_t, truth_a_n, mean2_t, mean2_n, upper2_t, upper2_n, lower2_t, lower2_n,
         samp2, samp2_span, (38.4, -1.5), (0.543, 270), [30, 20, 10, 0], ticks_a, labels_a)

ax3 = add_axes_px(676, 938, 52, 286)
ne_panel(ax3, titles[2], truth_b_t, truth_b_n, mean3_t, mean3_n, upper3_t, upper3_n, lower3_t, lower3_n,
         samp_unrel, samp_unrel_span, (58.2, -2.3), (2.36, 415), [50, 40, 30, 20, 10, 0], ticks_b, labels_b)

ax4 = add_axes_px(987, 1249, 52, 286)
ne_panel(ax4, titles[3], truth_b_t, truth_b_n, mean4_t, mean4_n, upper4_t, upper4_n, lower4_t, lower4_n,
         samp_unrel, samp_unrel_span, (58.2, -2.4), (2.36, 415), [50, 40, 30, 20, 10, 0], ticks_b, labels_b)

#---------------------------Bottom row---------------------------#

yt = [0.02, 0.03, 0.04, 0.05, 0.06, 0.07, 0.08]
yl = ['0.02', '', '0.04', '', '0.06', '', '0.08']
xt_a = [0.02, 0.03, 0.04, 0.05, 0.06, 0.07]
xl_a = ['0.02', '0.03', '0.04', '0.05', '0.06', '0.07']

ax5 = add_axes_px(53, 316, 351, 586)
ppc_panel(ax5, ppc_uniform + ppc_uniform_core, (0.0141, 0.0777), (0.0141, 0.0901), xt_a, xl_a, yt, yl)

ax6 = add_axes_px(365, 627, 351, 586)
ppc_panel(ax6, ppc_uniform + ppc_uniform_core, (0.0145, 0.0775), (0.0141, 0.0901), xt_a, xl_a, yt, yl)

ax7 = add_axes_px(676, 938, 351, 586)
ppc_panel(ax7, ppc_unrel_cond + ppc_unrel_cond_core, (0.0139, 0.0894), (0.0136, 0.0915),
          [0.02, 0.03, 0.04, 0.05, 0.06, 0.07, 0.08], ['0.02', '', '0.04', '', '0.06', '', '0.08'],
          yt, yl)

ax8 = add_axes_px(987, 1249, 351, 586)
ppc_panel(ax8, ppc_unrel_aware + ppc_unrel_aware_core, (0.0123, 0.1986), (0.0120, 0.0891),
          [0.05, 0.10, 0.15], ['0.05', '0.10', '0.15'], yt, yl)

fig.savefig("out.png", dpi=100)
